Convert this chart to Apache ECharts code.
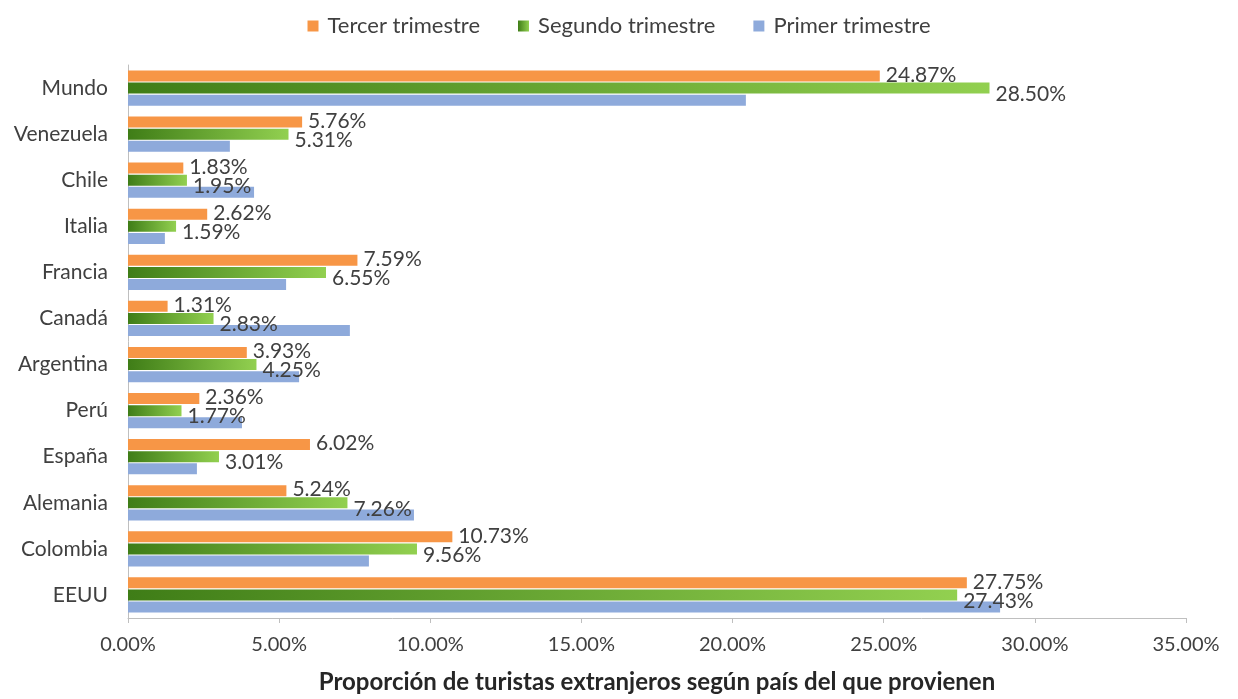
<!DOCTYPE html>
<html>
<head>
<meta charset="utf-8">
<script src="https://cdn.jsdelivr.net/npm/echarts@6/dist/echarts.min.js"></script>
<style>
  html, body { margin: 0; padding: 0; background: #fff; }
  #main { width: 1238px; height: 699px; }
</style>
</head>
<body>
<div id="main"></div>
<script>
// categories listed bottom to top
var paises = ['EEUU', 'Colombia', 'Alemania', 'España', 'Perú', 'Argentina',
  'Canadá', 'Francia', 'Italia', 'Chile', 'Venezuela', 'Mundo'];
var tercer = [27.75, 10.73, 5.24, 6.02, 2.36, 3.93, 1.31, 7.59, 2.62, 1.83, 5.76, 24.87];
var segundo = [27.43, 9.56, 7.26, 3.01, 1.77, 4.25, 2.83, 6.55, 1.59, 1.95, 5.31, 28.50];
var primer = [28.85, 7.97, 9.46, 2.28, 3.77, 5.66, 7.34, 5.23, 1.22, 4.17, 3.37, 20.44];
var ticks = [0, 5, 10, 15, 20, 25, 30, 35];

var chartDom = document.getElementById('main');
var myChart = echarts.init(chartDom);
var option;

var fontName = 'Lato';

function barLabel(dy) {
  return {
    show: true,
    position: 'right',
    distance: 6,
    offset: [0, dy],
    color: '#404040',
    fontFamily: fontName,
    fontSize: 21,
    formatter: function (p) {
      return p.value.toFixed(2) + '%';
    }
  };
}

option = {
  animation: false,
  textStyle: { fontFamily: fontName },
  legend: {
    data: ['Tercer trimestre', 'Segundo trimestre', 'Primer trimestre'],
    top: 10,
    left: 'center',
    itemWidth: 11,
    itemHeight: 11,
    itemGap: 38,
    icon: 'rect',
    textStyle: {
      fontSize: 22,
      color: '#404040',
      fontFamily: fontName,
      padding: [0, 0, 0, 4]
    }
  },
  grid: {
    left: 128,
    right: 52,
    top: 65,
    bottom: 79
  },
  xAxis: {
    type: 'value',
    min: ticks[0],
    max: ticks[ticks.length - 1],
    interval: 5,
    name: 'Proporción de turistas extranjeros según país del que provienen',
    nameLocation: 'middle',
    nameGap: 52,
    nameTextStyle: {
      fontSize: 24,
      fontWeight: 'bold',
      color: '#262626',
      fontFamily: fontName
    },
    axisLine: { show: true, lineStyle: { color: '#bfbfbf' } },
    axisTick: { show: true, length: 5, lineStyle: { color: '#bfbfbf' } },
    splitLine: { show: false },
    axisLabel: {
      margin: 17,
      fontSize: 20,
      color: '#404040',
      formatter: function (v) { return v.toFixed(2) + '%'; }
    }
  },
  yAxis: {
    type: 'category',
    data: paises,
    axisLine: { show: true, lineStyle: { color: '#bfbfbf' } },
    axisTick: { show: false },
    axisLabel: { fontSize: 21, color: '#404040', margin: 20 }
  },
  series: [
    {
      name: 'Tercer trimestre',
      type: 'bar',
      barWidth: 11,
      barGap: '10%',
      itemStyle: { color: '#f79646' },
      label: barLabel(-1),
      data: tercer
    },
    {
      name: 'Segundo trimestre',
      type: 'bar',
      barWidth: 11,
      barGap: '10%',
      itemStyle: {
        color: new echarts.graphic.LinearGradient(0, 0, 1, 0, [
          { offset: 0, color: '#3f7d17' },
          { offset: 1, color: '#92d050' }
        ])
      },
      label: barLabel(6),
      data: segundo
    },
    {
      name: 'Primer trimestre',
      type: 'bar',
      barWidth: 11,
      barGap: '10%',
      itemStyle: { color: '#8eaadb' },
      data: primer
    }
  ]
};

option && myChart.setOption(option);
</script>
</body>
</html>
